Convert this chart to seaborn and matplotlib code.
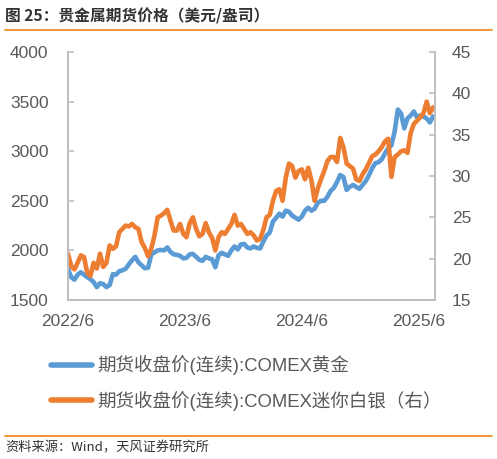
import matplotlib
matplotlib.use("Agg")
import matplotlib.pyplot as plt
from matplotlib.lines import Line2D
import seaborn as sns
import pandas as pd

# ---------------- data ----------------
start_date = "2022-06-30"
step_days = 10

gold = [1815, 1730, 1705, 1755, 1780, 1755, 1730, 1710, 1680, 1630,
        1670, 1660, 1630, 1650, 1760, 1755, 1790, 1800, 1815, 1860,
        1900, 1935, 1880, 1850, 1820, 1825, 1960, 1980, 2000, 2005,
        2000, 2030, 1985, 1960, 1955, 1945, 1920, 1925, 1960, 1965,
        1935, 1905, 1895, 1935, 1920, 1910, 1830, 1950, 1975, 1960,
        1945, 2000, 2040, 2010, 2060, 2065, 2030, 2020, 2040, 2025,
        2020, 2090, 2150, 2180, 2290, 2330, 2370, 2340, 2400, 2390,
        2350, 2330, 2310, 2340, 2400, 2430, 2400, 2420, 2480, 2500,
        2500, 2540, 2600, 2630, 2690, 2760, 2740, 2610, 2640, 2660,
        2640, 2620, 2660, 2700, 2760, 2830, 2880, 2890, 2920, 2980,
        3030, 3060, 3200, 3420, 3380, 3230, 3330, 3360, 3400, 3340,
        3360, 3350, 3330, 3290, 3350]

silver = [20.6, 19.1, 18.7, 19.5, 20.4, 20.2, 18.3, 17.9, 19.5, 18.8,
          20.6, 19.0, 19.5, 21.6, 21.2, 21.5, 23.2, 23.6, 24.0, 23.9,
          24.2, 23.8, 23.6, 22.0, 21.3, 20.3, 21.2, 22.8, 25.0, 25.2,
          25.5, 25.9, 24.6, 23.4, 23.4, 24.2, 23.0, 22.6, 24.3, 25.0,
          23.6, 22.7, 23.0, 24.3, 23.2, 22.5, 21.0, 22.6, 23.2, 23.0,
          23.6, 24.2, 25.3, 24.0, 24.2, 23.6, 23.0, 23.2, 22.8, 22.2,
          22.4, 23.5, 25.0, 25.3, 27.0, 28.2, 28.4, 27.0, 29.8, 31.5,
          31.2, 29.8, 30.6, 30.8, 29.6, 31.0, 29.5, 27.0, 28.5, 29.6,
          30.6, 31.8, 32.3, 32.3, 31.7, 34.6, 33.5, 31.5, 31.2, 30.9,
          29.6, 29.4, 30.2, 30.8, 31.6, 32.4, 32.6, 33.0, 33.5, 34.2,
          34.5, 29.9, 32.3, 32.6, 33.0, 33.1, 32.8, 35.2, 36.3, 36.7,
          37.1, 37.6, 39.0, 37.6, 38.3]

tick_dates = ["2022-06-30", "2023-06-30", "2024-06-30", "2025-06-30"]
tick_labels = ["2022/6", "2023/6", "2024/6", "2025/6"]
x_end = "2025-08-19"

left_ticks = [1500, 2000, 2500, 3000, 3500, 4000]
right_ticks = [15, 20, 25, 30, 35, 40, 45]

gold_label = "期货收盘价(连续):COMEX黄金"
silver_label = "期货收盘价(连续):COMEX迷你白银（右）"
title = "图 25：贵金属期货价格（美元/盎司）"
source = "资料来源：Wind，天风证券研究所"

dates = pd.date_range(start_date, periods=len(gold), freq=f"{step_days}D")
df = pd.DataFrame({"date": dates, "gold": gold, "silver": silver})

# ---------------- style ----------------
sns.set_theme(style="white")
plt.rcParams["font.family"] = ["Liberation Sans", "Noto Sans CJK SC", "DejaVu Sans"]

BLUE = "#5B9BD5"
ORANGE = "#ED7D31"
GRID = "#BFBFBF"
TXT = "#595959"
SEP = "#F08A2A"

W, H = 497, 459
fig = plt.figure(figsize=(W / 100, H / 100), dpi=100)
ax = fig.add_axes([68 / W, 1 - 300 / H, (435 - 68) / W, (300 - 52) / H])
ax2 = ax.twinx()

sns.lineplot(data=df, x="date", y="gold", ax=ax, color=BLUE, linewidth=3.3)
sns.lineplot(data=df, x="date", y="silver", ax=ax2, color=ORANGE, linewidth=3.3)

ax.set_xlim(pd.Timestamp(start_date), pd.Timestamp(x_end))
ax.set_ylim(1500, 4000)
ax2.set_ylim(15, 45)
ax.set_yticks(left_ticks)
ax2.set_yticks(right_ticks)
ax.set_xticks(pd.to_datetime(tick_dates))
ax.set_xticklabels(tick_labels)
for a in (ax, ax2):
    a.set_xlabel("")
    a.set_ylabel("")
    a.grid(False)
    a.spines["top"].set_visible(False)
    for s in ("left", "right", "bottom"):
        a.spines[s].set_color(GRID)
        a.spines[s].set_linewidth(1.3)

ax.tick_params(axis="y", direction="in", length=4, width=1.2, color=GRID,
               labelsize=12.5, labelcolor=TXT, pad=14)
ax.tick_params(axis="x", direction="in", length=4, width=1.2, color=GRID,
               labelsize=12.5, labelcolor=TXT, pad=10)
ax2.tick_params(axis="y", direction="in", length=4, width=1.2, color=GRID,
                labelsize=12.5, labelcolor=TXT, pad=12)

handles = [Line2D([], [], color=BLUE, lw=4), Line2D([], [], color=ORANGE, lw=4)]
fig.legend(handles, [gold_label, silver_label], loc="upper left",
           bbox_to_anchor=(51 / W, 1 - 355 / H), frameon=False, fontsize=13.3,
           labelcolor=TXT, handlelength=2.2, handletextpad=0.3,
           labelspacing=0.85, borderpad=0, borderaxespad=0)

fig.text(5 / W, 1 - 16 / H, title, fontsize=11.3, fontweight="bold",
         color="#333333", va="center", ha="left",
         family=["Noto Sans CJK SC", "DejaVu Sans"])
fig.add_artist(Line2D([5 / W, 492 / W], [1 - 29.5 / H] * 2, color=SEP, lw=1.3,
                      transform=fig.transFigure))
fig.add_artist(Line2D([5 / W, 492 / W], [1 - 436 / H] * 2, color=SEP, lw=1.3,
                      transform=fig.transFigure))
fig.text(5 / W, 1 - 448 / H, source, fontsize=9.5, color="#333333",
         va="center", ha="left", family=["Noto Sans CJK SC", "DejaVu Sans"])

fig.savefig("out.png", dpi=100)
